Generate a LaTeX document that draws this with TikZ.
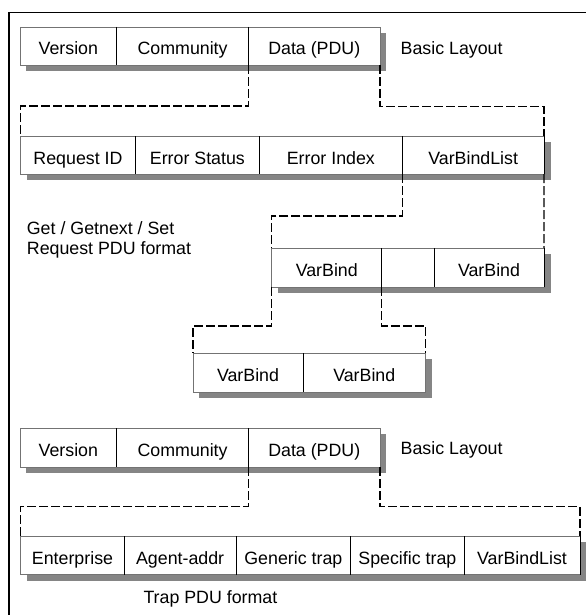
\documentclass[tikz,border=0pt]{standalone}
\usepackage{fontspec}
\setmainfont{Liberation Sans}
\begin{document}
\begin{tikzpicture}[x=1pt,y=-1pt,
  cell/.style={draw=black!55, line width=0.8pt, fill=white, inner sep=0pt, outer sep=0pt,
    anchor=north west, text height=18pt, text depth=0pt, font=\fontsize{17.8}{20}\selectfont},
  shadowbox/.style={fill=black!48},
  divider/.style={black, line width=0.9pt},
  conn/.style={black, line width=1.1pt, dash pattern=on 9pt off 3pt},
  lbl/.style={inner sep=0pt, font=\fontsize{17.8}{20}\selectfont},
  frame/.style={black, line width=1.3pt}]
\useasboundingbox (0,0) rectangle (586,615);
\draw[frame] (9,615) -- (9,12.7) -- (586,12.7);

% ---- Row 1
\fill[shadowbox] (26,33) rectangle (386,71);
\node[cell, minimum width=96.7, minimum height=38] (r1a) at (20,27) {Version};
\node[cell, minimum width=131.8, minimum height=38] (r1b) at (r1a.north east) {Community};
\node[cell, minimum width=131.5, minimum height=38] (r1c) at (r1b.north east) {Data (PDU)};
\draw[divider] (r1a.north east) -- (r1a.south east);
\draw[divider] (r1b.north east) -- (r1b.south east);
\node[lbl, anchor=base west] (bl1) at (400.5,54.5) {Basic Layout};

% ---- Row 2
\fill[shadowbox] (26.5,142) rectangle (550.5,180);
\node[cell, minimum width=115, minimum height=38] (r2a) at (20.5,136) {Request ID};
\node[cell, minimum width=123.8, minimum height=38] (r2b) at (r2a.north east) {Error Status};
\node[cell, minimum width=143.1, minimum height=38] (r2c) at (r2b.north east) {Error Index};
\node[cell, minimum width=141.6, minimum height=38] (r2d) at (r2c.north east) {VarBindList};
\draw[divider] (r2a.north east) -- (r2a.south east);
\draw[divider] (r2b.north east) -- (r2b.south east);
\draw[divider] (r2c.north east) -- (r2c.south east);
\draw[divider] (r2d.north east) -- (r2d.south east);

\node[lbl, anchor=base west, align=left] (gtxt) at (26.7,254.3) {Get / Getnext / Set\\Request PDU format};

% ---- Row 3
\fill[shadowbox] (277.7,254) rectangle (550.5,293);
\node[cell, minimum width=110.1, minimum height=39] (r3a) at (271.7,248) {VarBind};
\node[cell, minimum width=52.2, minimum height=39] (r3b) at (r3a.north east) {};
\node[cell, minimum width=110, minimum height=39] (r3c) at (r3b.north east) {VarBind};
\draw[divider] (r3a.north east) -- (r3a.south east);
\draw[divider] (r3b.north east) -- (r3b.south east);
\draw[divider] (r3c.north east) -- (r3c.south east);

% ---- Row 4
\fill[shadowbox] (199,359) rectangle (431.5,398);
\node[cell, minimum width=110, minimum height=39] (r4a) at (193,353) {VarBind};
\node[cell, minimum width=122.5, minimum height=39] (r4b) at (r4a.north east) {VarBind};
\draw[divider] (r4a.north east) -- (r4a.south east);

% ---- Row 5
\fill[shadowbox] (26,434) rectangle (386,473);
\node[cell, minimum width=96.7, minimum height=39] (r5a) at (20,428) {Version};
\node[cell, minimum width=131.8, minimum height=39] (r5b) at (r5a.north east) {Community};
\node[cell, minimum width=131.5, minimum height=39] (r5c) at (r5b.north east) {Data (PDU)};
\draw[divider] (r5a.north east) -- (r5a.south east);
\draw[divider] (r5b.north east) -- (r5b.south east);
\node[lbl, anchor=base west] (bl2) at (400.5,454.6) {Basic Layout};

% ---- Row 6
\fill[shadowbox] (26.7,542) rectangle (586,580.5);
\node[cell, minimum width=103.6, minimum height=38.5] (r6a) at (20.7,536) {Enterprise};
\node[cell, minimum width=111.7, minimum height=38.5] (r6b) at (r6a.north east) {Agent-addr};
\node[cell, minimum width=114.7, minimum height=38.5] (r6c) at (r6b.north east) {Generic trap};
\node[cell, minimum width=113.3, minimum height=38.5] (r6d) at (r6c.north east) {Specific trap};
\node[cell, minimum width=116, minimum height=38.5] (r6e) at (r6d.north east) {VarBindList};
\draw[divider] (r6a.north east) -- (r6a.south east);
\draw[divider] (r6b.north east) -- (r6b.south east);
\draw[divider] (r6c.north east) -- (r6c.south east);
\draw[divider] (r6d.north east) -- (r6d.south east);
\draw[divider] (r6e.north east) -- (r6e.south east);
\node[lbl, anchor=base west] (trap) at (143.3,603) {Trap PDU format};

% ---- Connectors
\draw[conn] (r1c.south west) -- ++(0,41) -| (r2a.north west);
\draw[conn] (r1c.south east) -- ++(0,41.7) -| (r2d.north east);
\draw[conn] (r2d.south west) -- ++(0,42) -| (r3a.north west);
\draw[conn] (r2d.south east) -- (r3c.north east);
\draw[conn] (r3a.south west) -- ++(0,39) -| (r4a.north west);
\draw[conn] (r3b.south west) -- ++(0,39) -| (r4b.north east);
\draw[conn] (r5c.south west) -- ++(0,39.7) -| (r6a.north west);
\draw[conn] (r5c.south east) -- ++(0,39.7) -| (r6e.north east);
\end{tikzpicture}
\end{document}
